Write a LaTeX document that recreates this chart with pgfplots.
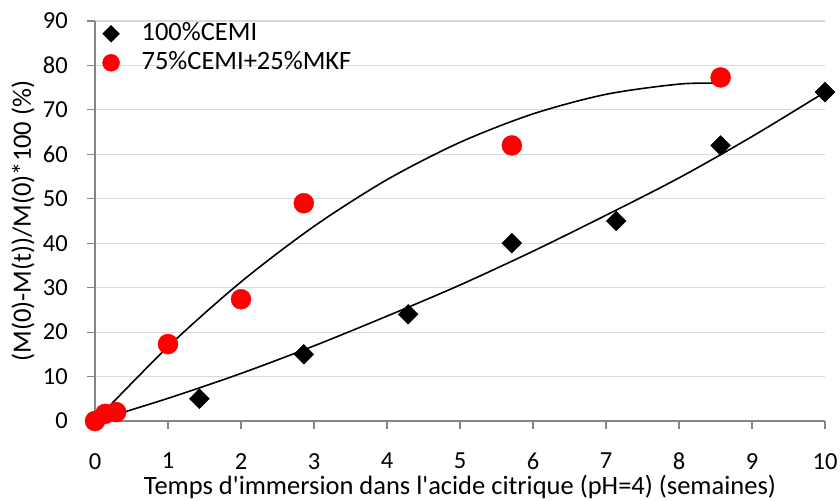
\documentclass[border=0pt]{standalone}
\usepackage{pgfplots}
\pgfplotsset{compat=1.18}
\usepackage{fontspec}
\setmainfont{Carlito}
\definecolor{axgray}{RGB}{134,134,134}
\definecolor{gridgray}{RGB}{217,217,217}
\definecolor{mkfred}{RGB}{255,0,0}
\begin{document}
\fontsize{24bp}{29bp}\selectfont
\begin{tikzpicture}
\begin{axis}[
  scale only axis, width=730bp, height=400bp,
  xmin=0, xmax=10, ymin=0, ymax=90,
  axis lines*=left,
  axis line style={axgray, line width=1.2bp},
  xtick={0,1,...,10}, ytick={0,10,...,90},
  tick align=outside, major tick length=8bp,
  tick style={axgray, line width=1.2bp},
  ymajorgrids, grid style={gridgray, line width=1.2bp},
  /pgf/number format/assume math mode=true,
  ticklabel style={font=\fontsize{24.5bp}{29bp}\selectfont, black},
  xticklabel style={inner sep=0pt, yshift=-24bp},
  yticklabel style={xshift=-11bp},
  xlabel={Temps d\textquotesingle immersion dans l\textquotesingle acide citrique (pH=4) (semaines)},
  ylabel={(M(0)-M(t))/M(0)*100 (\%)},
  label style={font=\fontsize{26.5bp}{31bp}\selectfont},
  xlabel style={at={(axis description cs:0.5,0)}, anchor=base, inner sep=0pt, yshift=-73.5bp},
  ylabel style={at={(axis description cs:0,0.5)}, anchor=center, yshift=72bp},
  clip=false,
  legend style={draw=none, fill=none, at={(axis cs:0.06,90.2)}, anchor=north west,
    font=\fontsize{26.5bp}{31bp}\selectfont, row sep=6bp, column sep=22bp,
    nodes={inner sep=0pt, text height=18bp, text depth=5bp}},
  legend image post style={scale=0.85},
  legend cell align=left,
]
\coordinate (ll) at (rel axis cs:0,0);
\coordinate (ur) at (rel axis cs:1,1);
% trendlines
\addplot[black, line width=1.6bp, smooth, forget plot] coordinates {
(0,0) (1,5.1) (2,10.7) (3,16.9) (4,23.6) (5,30.6) (6,38.2) (7,46.3) (8,54.7) (9,64) (10,74)};
\addplot[black, line width=1.6bp, smooth, forget plot] coordinates {
(0,0) (1,16.7) (2,31.3) (3,43.8) (4,54.3) (5,62.7) (6,69.1) (7,73.5) (8,75.8) (8.57,76.0)};
% data
\addplot[only marks, mark=square*, mark size=7bp, mark options={rotate=45, fill=black, draw=black}] coordinates {
(0,0) (1.43,5) (2.86,15) (4.29,24) (5.71,40) (7.14,45) (8.57,62) (10,74)};
\addlegendentry{100\%CEMI}
\addplot[only marks, mark=*, mark size=10bp, mark options={fill=mkfred, draw=mkfred}] coordinates {
(0,0) (0.14,1.6) (0.29,2) (1,17.3) (2,27.4) (2.86,49) (5.71,62) (8.57,77.3)};
\addlegendentry{75\%CEMI+25\%MKF}
\end{axis}
\pgfresetboundingbox
\path ([shift={(-95bp,-80bp)}]ll) rectangle ([shift={(15bp,21bp)}]ur);
\end{tikzpicture}
\end{document}
